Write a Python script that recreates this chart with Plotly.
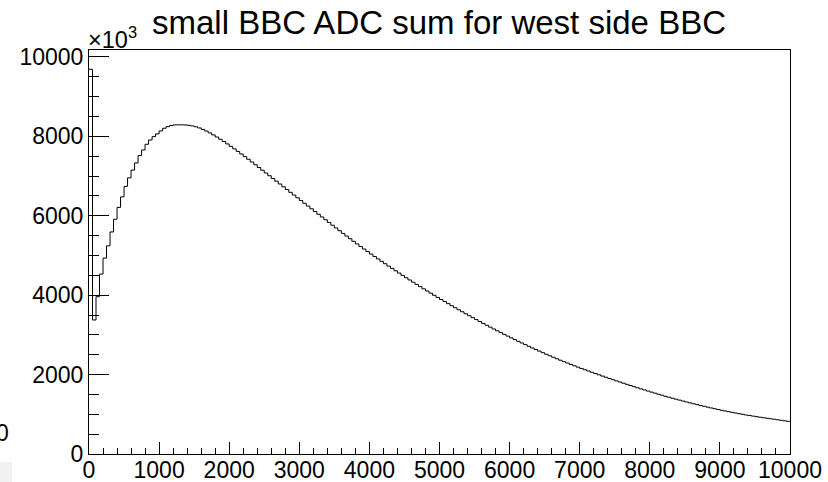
import numpy as np
import plotly.graph_objects as go

# Histogram binning (200 bins of width 50 over 0..10000)
x_low, x_high, n_bins = 0, 10000, 200

# Bin contents, in units of 10^3 entries
counts_k = [
    9690, 3375, 3962, 4530, 4933, 5243, 5592, 5912, 6210, 6475,
    6740, 6955, 7150, 7330, 7515, 7657, 7800, 7909, 7993, 8062,
    8136, 8204, 8245, 8272, 8287, 8290, 8290, 8287, 8278, 8263,
    8241, 8211, 8175, 8133, 8086, 8036, 7983, 7927, 7869, 7809,
    7747, 7684, 7620, 7555, 7489, 7422, 7354, 7285, 7215, 7146,
    7077, 7008, 6939, 6870, 6800, 6730, 6660, 6590, 6521, 6452,
    6383, 6314, 6245, 6176, 6107, 6038, 5969, 5900, 5831, 5762,
    5693, 5624, 5556, 5489, 5422, 5356, 5291, 5226, 5162, 5098,
    5035, 4974, 4913, 4852, 4792, 4732, 4673, 4614, 4556, 4498,
    4440, 4383, 4327, 4271, 4215, 4160, 4105, 4051, 3997, 3944,
    3891, 3838, 3786, 3734, 3683, 3632, 3582, 3532, 3483, 3434,
    3385, 3337, 3289, 3242, 3195, 3149, 3103, 3058, 3013, 2969,
    2925, 2881, 2838, 2796, 2754, 2712, 2671, 2631, 2591, 2551,
    2512, 2474, 2436, 2399, 2362, 2326, 2291, 2256, 2222, 2188,
    2155, 2122, 2090, 2058, 2026, 1995, 1963, 1933, 1902, 1872,
    1842, 1812, 1783, 1754, 1725, 1696, 1668, 1640, 1613, 1585,
    1558, 1532, 1505, 1480, 1454, 1429, 1405, 1380, 1357, 1333,
    1310, 1288, 1265, 1244, 1222, 1201, 1181, 1160, 1141, 1121,
    1102, 1084, 1066, 1048, 1031, 1015, 999, 983, 968, 954,
    940, 926, 913, 900, 887, 875, 862, 849, 836, 823,
]

title_text = "small BBC ADC sum for west side BBC"
x_tick_vals = list(range(0, 10001, 1000))
y_tick_vals = list(range(0, 10001, 2000))

FONT = "Liberation Sans, Arial, Helvetica, sans-serif"

edges = np.linspace(x_low, x_high, n_bins + 1)
step_x = list(edges)
step_y = list(counts_k) + [counts_k[-1]]
y_max = 1.05 * max(counts_k)

fig = go.Figure()
fig.add_trace(go.Scatter(
    x=step_x, y=step_y, mode="lines",
    line=dict(shape="hv", color="black", width=1),
    hoverinfo="skip", showlegend=False,
))

axis_common = dict(
    showline=True, linecolor="black", linewidth=1, mirror=True,
    showgrid=False, zeroline=False, automargin=False,
    ticks="inside", tickcolor="black", tickwidth=1,
    tickformat="d",
    tickfont=dict(family=FONT, size=23, color="black"),
)

fig.update_xaxes(
    range=[x_low, x_high], tickvals=x_tick_vals, ticklen=12,
    minor=dict(dtick=200, tick0=0, ticklen=6, ticks="inside",
               tickcolor="black", tickwidth=1, showgrid=False),
    ticklabelstandoff=-5,
    **axis_common,
)
fig.update_yaxes(
    range=[0, y_max], tickvals=y_tick_vals, ticklen=20,
    minor=dict(dtick=500, tick0=0, ticklen=10, ticks="inside",
               tickcolor="black", tickwidth=1, showgrid=False),
    ticklabelstandoff=0,
    **axis_common,
)

# pixel helpers for the plot area (l=89, width 701; t=50, height 404)
L, W, T, H = 89, 701, 50, 404


def px_x(p):
    return (p - L) / W


def px_y(p):
    return (T + H - p) / H


annotations = [
    dict(text=title_text, x=px_x(439), y=px_y(23), xref="paper", yref="paper",
         xanchor="center", yanchor="middle", showarrow=False,
         font=dict(family=FONT, size=33, color="black")),
    dict(text="\u00d710<sup>3</sup>", x=px_x(86), y=px_y(38), xref="paper",
         yref="paper", xanchor="left", yanchor="middle", showarrow=False,
         font=dict(family=FONT, size=23.5, color="black")),
    dict(text="0", x=px_x(2), y=px_y(433), xref="paper", yref="paper",
         xanchor="center", yanchor="middle", showarrow=False,
         font=dict(family=FONT, size=23, color="black")),
]

shapes = [
    dict(type="rect", xref="paper", yref="paper",
         x0=px_x(0), x1=px_x(12), y0=px_y(482), y1=px_y(462),
         fillcolor="#f1f1f1", line=dict(width=0), layer="below"),
]

fig.update_layout(
    width=828, height=482,
    margin=dict(l=L, r=828 - L - W, t=T, b=482 - T - H, pad=0),
    paper_bgcolor="white", plot_bgcolor="white",
    annotations=annotations, shapes=shapes,
    font=dict(family=FONT, color="black"),
)

fig.write_html("out.html")
